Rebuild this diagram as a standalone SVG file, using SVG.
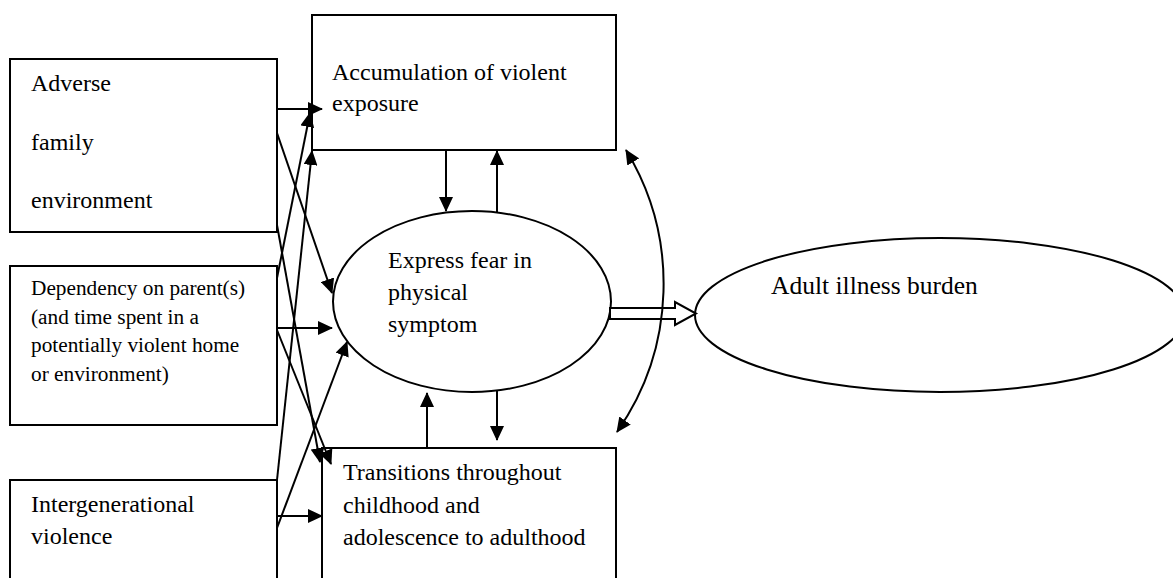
<svg xmlns="http://www.w3.org/2000/svg" width="1173" height="578" viewBox="0 0 1173 578">
  <style>
    .box { fill: #fff; stroke: #000; stroke-width: 2; }
    .t { font-family: "Liberation Serif", "Times New Roman", serif; font-size: 24px; fill: #000; }
    .ts { font-family: "Liberation Serif", "Times New Roman", serif; font-size: 21.3px; fill: #000; }
    .tl { font-family: "Liberation Serif", "Times New Roman", serif; font-size: 25.5px; fill: #000; }
    .ln { fill: none; stroke: #000; stroke-width: 2; marker-end: url(#ah); }
  </style>
  <defs>
    <marker id="ah" markerUnits="userSpaceOnUse" viewBox="0 0 15 14" markerWidth="15" markerHeight="14" refX="14" refY="7" orient="auto">
      <path d="M0,0 L15,7 L0,14 z" fill="#000"/>
    </marker>
    <marker id="ah2" markerUnits="userSpaceOnUse" viewBox="0 0 15 14" markerWidth="15" markerHeight="14" refX="14" refY="7" orient="auto-start-reverse">
      <path d="M0,0 L15,7 L0,14 z" fill="#000"/>
    </marker>
  </defs>

  <g id="node-adverse">
    <rect class="box" x="10" y="59" width="267" height="173"/>
    <text class="t" x="31" y="91">Adverse</text>
    <text class="t" x="31" y="150">family</text>
    <text class="t" x="31" y="208">environment</text>
  </g>

  <g id="node-dependency">
    <rect class="box" x="10" y="266" width="267" height="159"/>
    <text class="ts" x="31" y="295">Dependency on parent(s)</text>
    <text class="ts" x="31" y="323.5">(and time spent in a</text>
    <text class="ts" x="31" y="352">potentially violent home</text>
    <text class="ts" x="31" y="380.5">or environment)</text>
  </g>

  <g id="node-intergenerational">
    <rect class="box" x="10" y="480" width="267" height="130"/>
    <text class="t" x="31" y="512">Intergenerational</text>
    <text class="t" x="31" y="544">violence</text>
  </g>

  <g id="node-accumulation">
    <rect class="box" x="312" y="15" width="304" height="135"/>
    <text class="t" x="332" y="80">Accumulation of violent</text>
    <text class="t" x="332" y="111">exposure</text>
  </g>

  <g id="node-transitions">
    <rect class="box" x="322" y="448" width="294" height="150"/>
    <text class="t" x="343" y="480">Transitions throughout</text>
    <text class="t" x="343" y="512.5">childhood and</text>
    <text class="t" x="343" y="545">adolescence to adulthood</text>
  </g>

  <g id="node-express">
    <ellipse class="box" cx="472" cy="301.5" rx="139" ry="90.5"/>
    <text class="t" x="388" y="268">Express fear in</text>
    <text class="t" x="388" y="300">physical</text>
    <text class="t" x="388" y="332">symptom</text>
  </g>

  <g id="node-adult">
    <ellipse class="box" cx="940" cy="315" rx="245" ry="77"/>
    <text class="tl" x="771" y="294">Adult illness burden</text>
  </g>

  <g id="connectors">
    <line class="ln" x1="277" y1="109" x2="322" y2="109"/>
    <line class="ln" x1="277" y1="133" x2="332" y2="293"/>
    <line class="ln" x1="277" y1="225" x2="320" y2="462"/>
    <line class="ln" x1="277" y1="278" x2="310" y2="113"/>
    <line class="ln" x1="277" y1="328" x2="332" y2="328"/>
    <line class="ln" x1="277" y1="330" x2="331" y2="464"/>
    <line class="ln" x1="277" y1="480" x2="312" y2="151"/>
    <line class="ln" x1="277" y1="528" x2="347" y2="342"/>
    <line class="ln" x1="277" y1="516" x2="322" y2="516"/>
    <line class="ln" x1="446" y1="150" x2="446" y2="211"/>
    <line class="ln" x1="497" y1="212" x2="497" y2="151"/>
    <line class="ln" x1="427" y1="448" x2="427" y2="393"/>
    <line class="ln" x1="497" y1="391" x2="497" y2="440"/>
    <polygon points="610,308 675,308 675,302 696,313.5 675,325 675,319 610,319" fill="#fff" stroke="#000" stroke-width="2" stroke-linejoin="miter"/>
    <path d="M626,150 A258,258 0 0 1 617,432" fill="none" stroke="#000" stroke-width="2" marker-start="url(#ah2)" marker-end="url(#ah2)"/>
  </g>
</svg>
